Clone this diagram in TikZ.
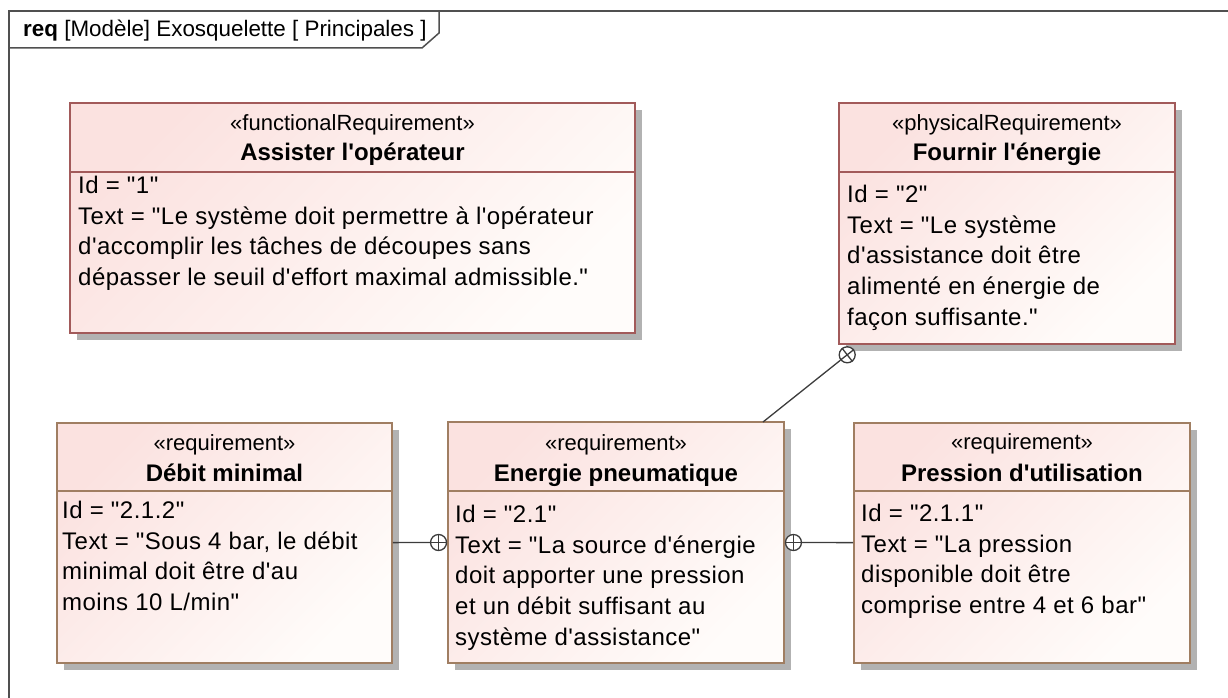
\documentclass[tikz,border=0pt]{standalone}
\usepackage{fontspec}
\newfontfamily\umlfont{Liberation Sans}
\newfontfamily\umlbody{Liberation Sans}[LetterSpace=2]
\usepackage{tikz}
\usetikzlibrary{positioning,shadows,calc}
\definecolor{framegray}{RGB}{80,80,80}
\definecolor{redborder}{RGB}{162,90,90}
\definecolor{tanborder}{RGB}{160,126,98}
\definecolor{reqpink}{RGB}{251,226,224}
\definecolor{reqwhite}{RGB}{255,252,250}
\definecolor{shadowgray}{RGB}{178,178,178}
\definecolor{linkgray}{RGB}{60,60,60}

\begin{document}
\begin{tikzpicture}[x=1pt, y=-1pt,
        reqbox/.style={rectangle, inner sep=0pt, line width=1.6pt,
                    top color=reqpink, bottom color=reqwhite, shading angle=45,
                    general shadow={fill=shadowgray, shadow xshift=7pt, shadow yshift=-7pt}},
        redreq/.style={reqbox, draw=redborder},
        tanreq/.style={reqbox, draw=tanborder},
        stereo/.style={anchor=base, inner sep=0pt, font=\umlfont\fontsize{22}{26}\selectfont},
        reqname/.style={anchor=base, inner sep=0pt, font=\umlfont\bfseries\fontsize{24}{28}\selectfont},
        reqtext/.style={anchor=north west, inner sep=0pt, align=left, font=\umlbody\fontsize{24}{30.7}\selectfont},
        contain/.style={circle, draw=linkgray, line width=1.3pt, fill=white, minimum size=16pt, inner sep=0pt},
        link/.style={draw=linkgray, line width=1.3pt}
      ]
        \useasboundingbox (0,0) rectangle (1228,698);

        % diagram frame
        \draw[framegray, line width=1.5pt] (1240,11) -- (9,11) -- (9,710);
        \draw[framegray, line width=1.5pt] (9,48) -- (422,48) -- (439,33) -- (439,11);
        \node[anchor=base west, inner sep=0pt, font=\umlfont\fontsize{22.4}{26}\selectfont] (title) at (23,37)
          {\textbf{req} [Modèle] Exosquelette [ Principales ]};

        % requirements
        \node[redreq, minimum width=565pt, minimum height=230pt] (assister) at (352.5,218) {};
        \node[redreq, minimum width=336pt, minimum height=241pt] (fournir) at (1007,223.5) {};
        \node[tanreq, minimum width=335pt, minimum height=240pt] (debit) at (224.5,543) {};
        \node[tanreq, minimum width=336pt, minimum height=241pt] (energie) at (616,542.5) {};
        \node[tanreq, minimum width=336pt, minimum height=240pt] (pression) at (1022,543) {};

        \draw[redborder, line width=1.6pt] (assister.west |- 0,172) -- (assister.east |- 0,172);
        \draw[redborder, line width=1.6pt] (fournir.west |- 0,172) -- (fournir.east |- 0,172);
        \draw[tanborder, line width=1.6pt] (debit.west |- 0,491) -- (debit.east |- 0,491);
        \draw[tanborder, line width=1.6pt] (energie.west |- 0,491) -- (energie.east |- 0,491);
        \draw[tanborder, line width=1.6pt] (pression.west |- 0,491) -- (pression.east |- 0,491);

        \node[stereo] (assisterSt) at (352.5,131) {«functionalRequirement»};
        \node[reqname] (assisterNm) at (352.5,160) {Assister l'opérateur};
        \node[reqtext] (assisterTx) at (78,175.8) {Id = "1"\\
          Text = "Le système doit permettre à l'opérateur\\
          d'accomplir les tâches de découpes sans\\
          dépasser le seuil d'effort maximal admissible."};

        \node[stereo] (fournirSt) at (1007,131) {«physicalRequirement»};
        \node[reqname] (fournirNm) at (1007,160) {Fournir l'énergie};
        \node[reqtext] (fournirTx) at (847,184.8) {Id = "2"\\
          Text = "Le système\\
          d'assistance doit être\\
          alimenté en énergie de\\
          façon suffisante."};

        \node[stereo] (debitSt) at (224.5,450) {«requirement»};
        \node[reqname] (debitNm) at (224.5,481) {Débit minimal};
        \node[reqtext] (debitTx) at (62,501) {Id = "2.1.2"\\
          Text = "Sous 4 bar, le débit\\
          minimal doit être d'au\\
          moins 10 L/min"};

        \node[stereo] (energieSt) at (616,450) {«requirement»};
        \node[reqname] (energieNm) at (616,481) {Energie pneumatique};
        \node[reqtext] (energieTx) at (455,504.8) {Id = "2.1"\\
          Text = "La source d'énergie\\
          doit apporter une pression\\
          et un débit suffisant au\\
          système d'assistance"};

        \node[stereo] (pressionSt) at (1022,449) {«requirement»};
        \node[reqname] (pressionNm) at (1022,481) {Pression d'utilisation};
        \node[reqtext] (pressionTx) at (861,503.8) {Id = "2.1.1"\\
          Text = "La pression\\
          disponible doit être\\
          comprise entre 4 et 6 bar"};

        % containment links
        \node[contain, anchor=east] (c1) at (energie.west) {};
        \node[contain, anchor=west] (c2) at (energie.east) {};
        \node[contain] (c3) at ($(fournir.south west)+(9,10)$) {};
        \coordinate (eTop) at (763,422);

        \draw[link] (debit) -- (c1);
        \draw[link] (c2) -- (pression);
        \draw[link] (eTop) -- (c3);
        \draw[link] (c1.north) -- (c1.south) (c1.east) -- (c1.west);
        \draw[link] (c2.north) -- (c2.south) (c2.east) -- (c2.west);
        \draw[link] (c3.38.7) -- (c3.218.7) (c3.128.7) -- (c3.308.7);
      \end{tikzpicture}
\end{document}
